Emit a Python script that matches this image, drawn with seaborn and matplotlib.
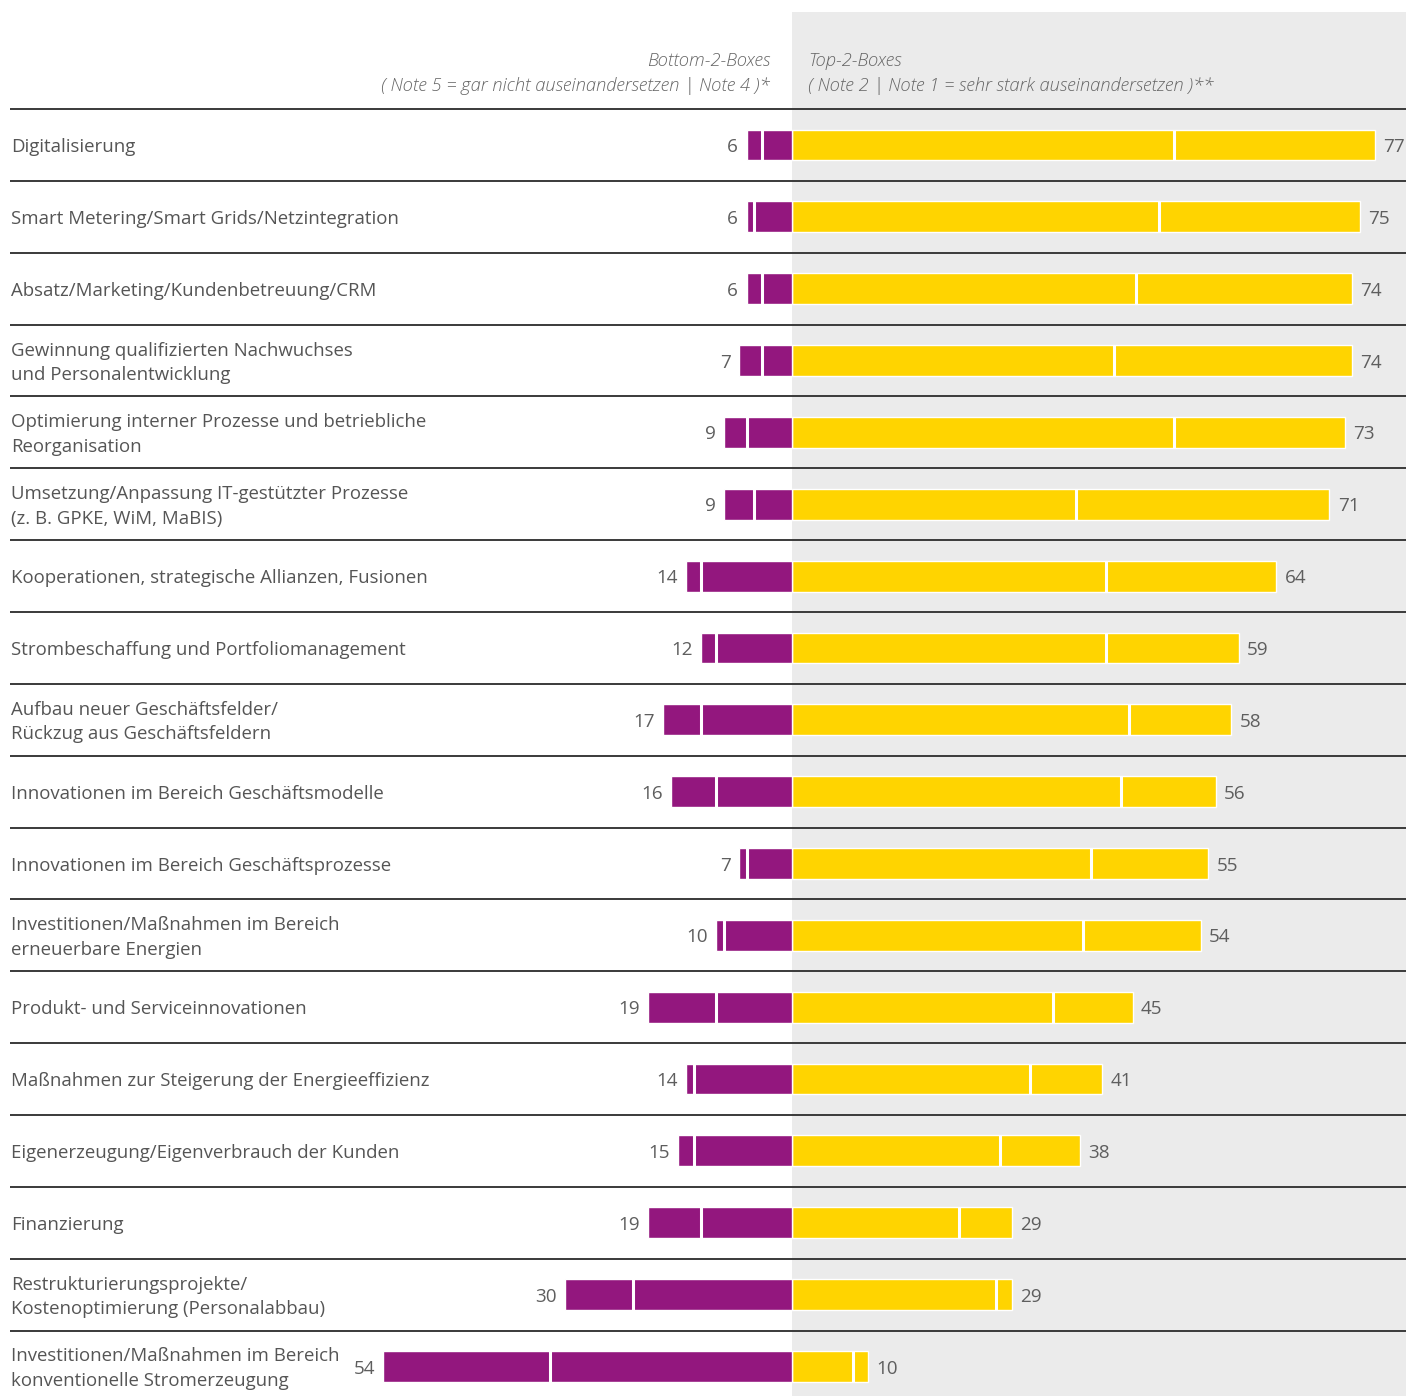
import pandas as pd
import seaborn as sns
import matplotlib.pyplot as plt

# Daten (Werte in %)
kategorien = [
    "Digitalisierung",
    "Smart Metering/Smart Grids/Netzintegration",
    "Absatz/Marketing/Kundenbetreuung/CRM",
    "Gewinnung qualifizierten Nachwuchses\nund Personalentwicklung",
    "Optimierung interner Prozesse und betriebliche\nReorganisation",
    "Umsetzung/Anpassung IT-gestützter Prozesse\n(z. B. GPKE, WiM, MaBIS)",
    "Kooperationen, strategische Allianzen, Fusionen",
    "Strombeschaffung und Portfoliomanagement",
    "Aufbau neuer Geschäftsfelder/\nRückzug aus Geschäftsfeldern",
    "Innovationen im Bereich Geschäftsmodelle",
    "Innovationen im Bereich Geschäftsprozesse",
    "Investitionen/Maßnahmen im Bereich\nerneuerbare Energien",
    "Produkt- und Serviceinnovationen",
    "Maßnahmen zur Steigerung der Energieeffizienz",
    "Eigenerzeugung/Eigenverbrauch der Kunden",
    "Finanzierung",
    "Restrukturierungsprojekte/\nKostenoptimierung (Personalabbau)",
    "Investitionen/Maßnahmen im Bereich\nkonventionelle Stromerzeugung",
]
bottom2 = [6, 6, 6, 7, 9, 9, 14, 12, 17, 16, 7, 10, 19, 14, 15, 19, 30, 54]
note4 = [4, 5, 4, 4, 6, 5, 12, 10, 12, 10, 6, 9, 10, 13, 13, 12, 21, 32]
top2 = [77, 75, 74, 74, 73, 71, 64, 59, 58, 56, 55, 54, 45, 41, 38, 29, 29, 10]
note2 = [50.5, 48.5, 45.5, 42.5, 50.5, 37.5, 41.5, 41.5, 44.5, 43.5, 39.5, 38.5,
         34.5, 31.5, 27.5, 22, 27, 8]

df = pd.DataFrame({"kat": kategorien, "bottom": [-v for v in bottom2], "top": top2})

lila = "#93177E"
gelb = "#FFD400"
grau_bg = "#EBEBEB"
textfarbe = "#555555"

sns.set_style("white")
plt.rcParams["font.family"] = ["Open Sans", "DejaVu Sans"]

fig = plt.figure(figsize=(14.06, 13.96), dpi=100)
ax = fig.add_axes([0, 0, 1, 1])

px = 7.57  # Pixel pro Prozentpunkt
x0, x1 = -792 / px, (1406 - 792) / px
y_top, y_bot = -145 / 71.85, (1396 - 145) / 71.85

sns.barplot(data=df, x="top", y="kat", color=gelb, orient="h", width=0.43,
            saturation=1, ax=ax, zorder=3)
sns.barplot(data=df, x="bottom", y="kat", color=lila, orient="h", width=0.43,
            saturation=1, ax=ax, zorder=3)

# grauer Hintergrund rechts
ax.axvspan(0, x1, ymin=0, ymax=1 - 12 / 1396, color=grau_bg, zorder=0, lw=0)

# weiße Trennstriche innerhalb der Balken
n = len(kategorien)
for i in range(n):
    ax.vlines(note2[i], i - 0.215, i + 0.215, color="white", lw=2.2, zorder=4)
    ax.vlines(-note4[i], i - 0.215, i + 0.215, color="white", lw=2.2, zorder=4)

# Trennlinien
for i in range(n):
    ax.hlines(i - 0.5, x0 + 10 / px, x1, color="#3a3a3a", lw=1.4, zorder=2)

# Beschriftungen
for i in range(n):
    ax.text(x0 + 11 / px, i + 0.03, kategorien[i], ha="left", va="center",
            fontsize=13.4, fontweight="medium", color=textfarbe, linespacing=1.45)
    ax.annotate(str(bottom2[i]), (-bottom2[i], i), xytext=(-6, -1.5),
                textcoords="offset points", ha="right", va="center",
                fontsize=13.6, color="#5e5e5e")
    ax.annotate(str(top2[i]), (top2[i], i), xytext=(6, -1.5),
                textcoords="offset points", ha="left", va="center",
                fontsize=13.6, color="#5e5e5e")

ax.text(-22 / px, -1.0,
        "Bottom-2-Boxes\n( Note 5 = gar nicht auseinandersetzen | Note 4 )*",
        ha="right", va="center", fontsize=13.2, style="italic", fontweight="light",
        color="#666666", linespacing=1.5)
ax.text(16 / px, -1.0,
        "Top-2-Boxes\n( Note 2 | Note 1 = sehr stark auseinandersetzen )**",
        ha="left", va="center", fontsize=13.2, style="italic", fontweight="light",
        color="#666666", linespacing=1.5)

ax.set_xlim(x0, x1)
ax.set_ylim(y_bot, y_top)
ax.axis("off")

fig.savefig("out.png", dpi=100)
